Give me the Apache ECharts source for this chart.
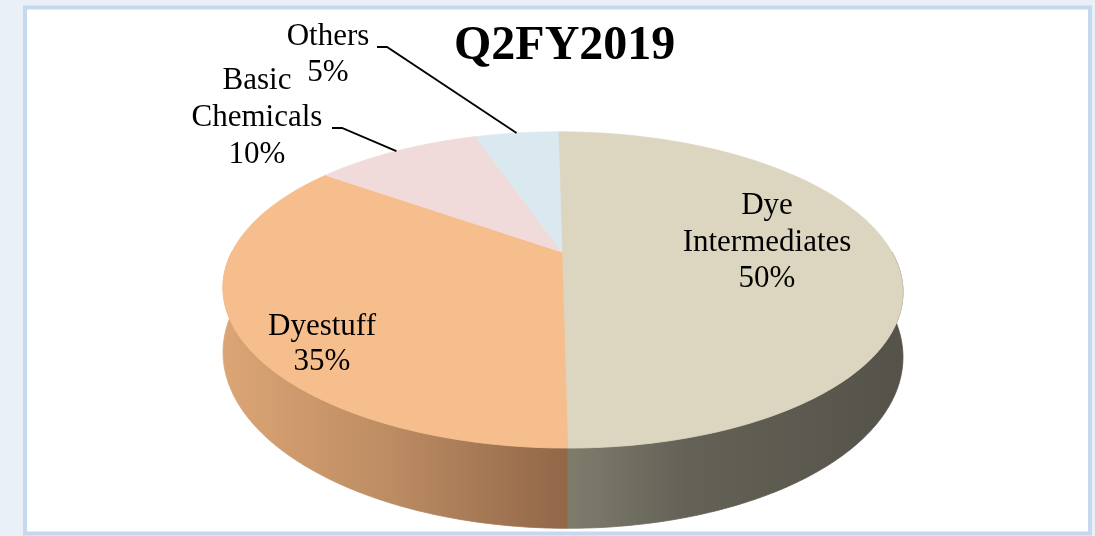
<!DOCTYPE html>
<html><head><meta charset="utf-8">
<script src="https://cdn.jsdelivr.net/npm/echarts@6/dist/echarts.min.js"></script>
<style>html,body{margin:0;padding:0;background:#fff}#chart{width:1095px;height:536px}</style>
</head><body><div id="chart"></div>
<script>
// ---- data ----
const chartTitle = 'Q2FY2019';
const categories = ['Dye Intermediates', 'Dyestuff', 'Basic Chemicals', 'Others'];
const values = [50, 35, 10, 5];

// ---- styles ----
const topColors = ['#dcd6c0', '#f6be8c', '#f1dada', '#dae8f0'];
const sideStops = [
  [[0, '#7e7d6d'], [0.35, '#646256'], [1, '#55524a']],
  [[0, '#dca575'], [0.5, '#bb8b62'], [1, '#916748']],
  [[0, '#c9b3b3'], [1, '#a89292']],
  [[0, '#b3c0c7'], [1, '#96a3aa']]
];
// perspective ellipse geometry
const G = { cx: 563, cy: 252, A: 330, B: 149, p: 0.24, depth: 61, shear: 0.03, shearY: 290 };
// label placement (text boxes, not marks)
const labelLayout = [
  { x: 767, y: 242.5, lh: 36.5 },
  { x: 322, y: 344, lh: 35 },
  { x: 257, y: 118, lh: 37, line: [[332, 128], [342, 128]] },
  { x: 328, y: 54.5, lh: 36, line: [[377, 47], [387, 47]] }
];

function projUV(u, v, down) {
  const d = 1 + G.p * v;
  let y = G.cy - G.B * v / d;
  const x = G.cx + G.A * u / d + G.shear * (y - G.shearY);
  if (down) y += G.depth / d;
  return [x, y];
}
function proj(theta, down) { return projUV(Math.sin(theta), Math.cos(theta), down); }

const total = values.reduce((a, b) => a + b, 0);

function renderItem(params, api) {
  const i = params.dataIndex;
  const val = api.value(1);
  let before = 0;
  for (let k = 0; k < i; k++) before += values[k];
  const a0 = before / total * 2 * Math.PI;
  const a1 = (before + val) / total * 2 * Math.PI;
  const children = [];
  // side wall (front half only)
  const s0 = Math.max(a0, Math.PI / 2), s1 = Math.min(a1, 3 * Math.PI / 2);
  if (s1 > s0) {
    const N = 120, pts = [];
    for (let k = 0; k <= N; k++) pts.push(proj(s0 + (s1 - s0) * k / N, false));
    for (let k = N; k >= 0; k--) pts.push(proj(s0 + (s1 - s0) * k / N, true));
    const xs = pts.map(p => p[0]);
    const grad = {
      type: 'linear', x: Math.min(...xs), y: 0, x2: Math.max(...xs), y2: 0, global: true,
      colorStops: sideStops[i].map(s => ({ offset: s[0], color: s[1] }))
    };
    children.push({ type: 'polygon', z2: 1, shape: { points: pts }, style: { fill: grad, stroke: grad, lineWidth: 0.8 } });
  }
  // top face
  const tp = [projUV(0, 0, false)];
  const N2 = 160;
  for (let k = 0; k <= N2; k++) tp.push(proj(a0 + (a1 - a0) * k / N2, false));
  children.push({ type: 'polygon', z2: 2, shape: { points: tp }, style: { fill: topColors[i], stroke: topColors[i], lineWidth: 0.8 } });
  // label
  const L = labelLayout[i];
  const pct = Math.round(val / total * 100) + '%';
  const txt = categories[i].split(' ').join('\n') + '\n' + pct;
  children.push({
    type: 'text', z2: 5,
    style: {
      text: txt, x: L.x, y: L.y, fill: '#000',
      fontFamily: '"Liberation Serif", "Times New Roman", serif', fontSize: 31,
      align: 'center', verticalAlign: 'middle', lineHeight: L.lh
    }
  });
  if (L.line) {
    const end = proj((a0 + a1) / 2, false);
    children.push({
      type: 'polyline', z2: 6,
      shape: { points: [L.line[0], L.line[1], end] },
      style: { stroke: '#000', lineWidth: 1.8, fill: null }
    });
  }
  return { type: 'group', children };
}

const chart = echarts.init(document.getElementById('chart'), null, { renderer: 'canvas' });
chart.setOption({
  backgroundColor: '#eaf0f7',
  animation: false,
  title: {
    text: chartTitle, left: 449, top: 18,
    textStyle: { fontFamily: '"Liberation Serif", "Times New Roman", serif', fontWeight: 'bold', fontSize: 48, color: '#000' }
  },
  graphic: [
    { type: 'rect', z: -10, silent: true, shape: { x: 25, y: 7.5, width: 1065, height: 526 },
      style: { fill: '#ffffff', stroke: '#c5d8ee', lineWidth: 4 } }
  ],
  series: [{
    type: 'custom',
    coordinateSystem: 'none',
    silent: true,
    renderItem: renderItem,
    data: values.map((v, i) => ({ name: categories[i], value: [i, v] }))
  }]
});
</script>
</body></html>
